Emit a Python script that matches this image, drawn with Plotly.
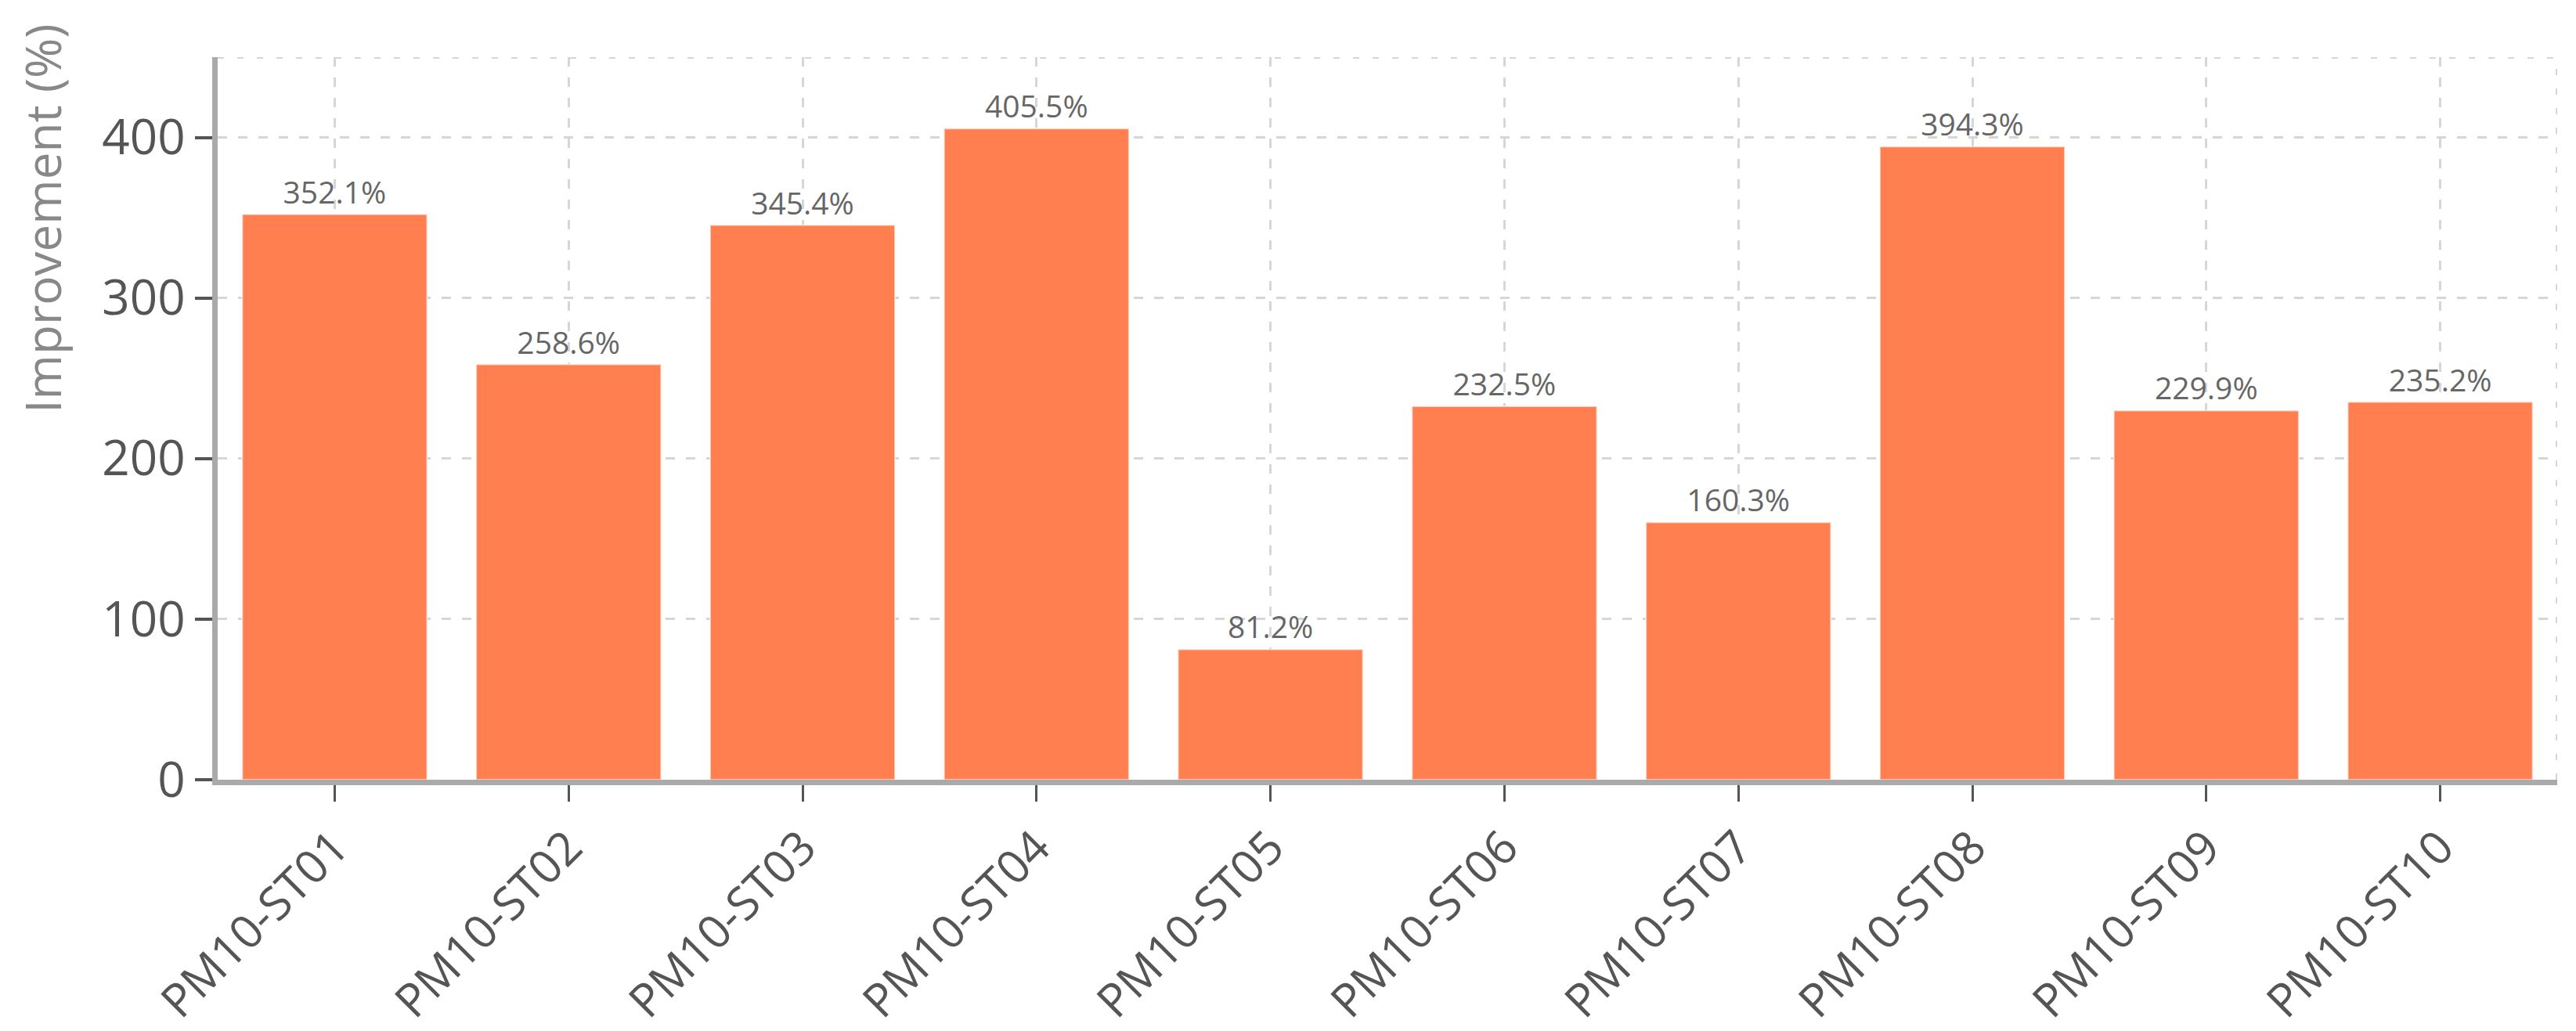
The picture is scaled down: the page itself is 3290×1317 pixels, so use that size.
import plotly.graph_objects as go

# Station improvement data
stations = ['PM10-ST01', 'PM10-ST02', 'PM10-ST03', 'PM10-ST04', 'PM10-ST05',
            'PM10-ST06', 'PM10-ST07', 'PM10-ST08', 'PM10-ST09', 'PM10-ST10']
improvement = [352.1, 258.6, 345.4, 405.5, 81.2, 232.5, 160.3, 394.3, 229.9, 235.2]

y_ticks = [0, 100, 200, 300, 400]
y_max = 450

font_family = 'Open Sans, Segoe UI, sans-serif'
grid_color = '#d6d6d6'

fig = go.Figure()

fig.add_trace(go.Bar(
    x=stations,
    y=improvement,
    marker=dict(color='#FF7F50', line=dict(color='rgba(255,255,255,0.55)', width=2)),
    texttemplate='%{y:.1f}%',
    textposition='outside',
    textfont=dict(size=39, color='#666666', family=font_family),
    cliponaxis=False,
))

# dashed frame on top and right side
fig.add_shape(type='line', xref='x', yref='y', x0=-0.5, x1=9.5, y0=y_max, y1=y_max,
              line=dict(color=grid_color, width=4, dash='8px,17px'), layer='below')
fig.add_shape(type='line', xref='x', yref='y', x0=9.5, x1=9.5, y0=0, y1=y_max,
              line=dict(color=grid_color, width=4, dash='8px,17px'), layer='below')

# y axis title placed as annotation (it sits high, not centred on the axis)
fig.add_annotation(
    text='Improvement (%)', xref='paper', yref='paper',
    x=-0.075, y=0.777, xanchor='center', yanchor='middle',
    textangle=-90, showarrow=False,
    font=dict(size=62, color='#888888', family=font_family),
)

fig.update_layout(
    width=3290,
    height=1317,
    margin=dict(l=270, r=32, t=65, b=329),
    plot_bgcolor='white',
    paper_bgcolor='white',
    bargap=0.21,
    showlegend=False,
    font=dict(family=font_family),
    xaxis=dict(
        type='category',
        range=[-0.5, 9.5],
        automargin=False,
        tickangle=-45,
        tickfont=dict(size=59, color='#555555'),
        ticks='outside', ticklen=21, tickwidth=3, tickcolor='#555555',
        showline=True, linecolor='#aaaaaa', linewidth=7,
        showgrid=True, gridcolor=grid_color, gridwidth=3, griddash='12px,14px',
        zeroline=False,
    ),
    yaxis=dict(
        range=[0, y_max],
        automargin=False,
        tickvals=y_ticks,
        tickfont=dict(size=62, color='#555555'),
        ticks='outside', ticklen=22, tickwidth=4, tickcolor='#555555',
        showline=True, linecolor='#aaaaaa', linewidth=7,
        showgrid=True, gridcolor=grid_color, gridwidth=3, griddash='12px,14px',
        zeroline=False,
    ),
)

fig.write_html('out.html')
